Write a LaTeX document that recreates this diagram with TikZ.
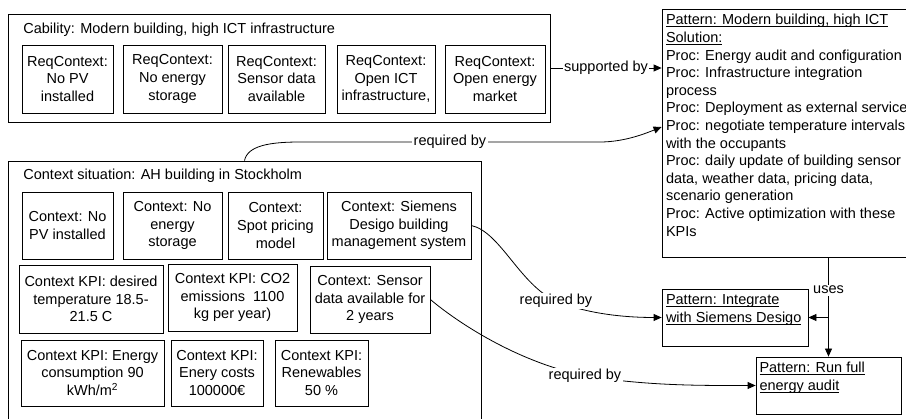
\documentclass[tikz,border=0pt]{standalone}
\usepackage{fontspec}
\setmainfont{Liberation Sans}
\usetikzlibrary{arrows.meta}
\newcommand{\patternline}[1]{\underline{\vphantom{P}\smash{#1}}}
\tikzset{
    every node/.style = {
        font=\fontsize{14.5pt}{17.6pt}\selectfont,
        inner sep=0pt
    },
    group/.style = {
        draw,
        shape=rectangle,
        line width=0.8pt
    },
    context/.style = {
        draw,
        shape=rectangle,
        line width=0.8pt,
        align=center
    },
    pattern/.style = {
        draw,
        shape=rectangle,
        line width=0.8pt
    },
    heading/.style = {
        anchor=west
    },
    patterntext/.style = {
        anchor=north west,
        align=left
    },
    relation/.style = {
        fill=white,
        inner sep=1.5pt
    },
    >={Triangle[length=8pt,width=7pt]},
}

\begin{document}
\begin{tikzpicture}[x=1pt, y=1pt, line width=0.8pt]
            \useasboundingbox (0,0) rectangle (906,-419);
            \clip (0,0) rectangle (906,-419);

            \node[group, minimum width=542pt, minimum height=108pt] (cab) at (279,-68) {};
            \node[heading] (cabtitle) at (23,-30) {Cability: Modern building, high ICT infrastructure};
            \node[context, minimum width=91pt, minimum height=68pt] (req1) at (67.5,-79) {ReqContext:\\No PV\\installed};
            \node[context, minimum width=99pt, minimum height=68pt] (req2) at (172.5,-79) {ReqContext:\\No energy\\storage};
            \node[context, minimum width=97pt, minimum height=68pt] (req3) at (276.5,-79) {ReqContext:\\Sensor data\\available};
            \node[context, minimum width=98pt, minimum height=68pt] (req4) at (386,-79) {ReqContext:\\Open ICT\\infrastructure,};
            \node[context, minimum width=100pt, minimum height=68pt] (req5) at (495,-79) {ReqContext:\\Open energy\\market};

            \node[pattern, minimum width=298pt, minimum height=248pt] (patsol) at (811,-133) {};
            \node[patterntext] (patsoltxt) at ([shift={(4,-6)}]patsol.north west) {\patternline{Pattern: Modern building, high ICT}\\\patternline{Solution:}\\Proc: Energy audit and configuration\\Proc: Infrastructure integration\\process\\Proc: Deployment as external service\\Proc: negotiate temperature intervals\\with the occupants\\Proc: daily update of building sensor\\data, weather data, pricing data,\\scenario generation\\Proc: Active optimization with these\\KPIs};

            \node[group, minimum width=473pt, minimum height=269pt] (ctx) at (244.5,-295.5) {};
            \node[heading] (ctxtitle) at (23,-176) {Context situation: AH building in Stockholm};
            \node[context, minimum width=91pt, minimum height=67pt] (ctxa) at (67.5,-225.5) {Context: No\\PV installed};
            \node[context, minimum width=99pt, minimum height=67pt] (ctxb) at (172.5,-225.5) {Context: No\\energy\\storage};
            \node[context, minimum width=95pt, minimum height=67pt] (ctxc) at (275.5,-225.5) {Context:\\Spot pricing\\model};
            \node[context, minimum width=144pt, minimum height=67pt] (ctxd) at (399,-225.5) {Context: Siemens\\Desigo building\\management system};
            \node[context, minimum width=144pt, minimum height=68pt] (ctxe) at (91,-299) {Context KPI: desired\\temperature 18.5-\\21.5 C};
            \node[context, minimum width=129pt, minimum height=67pt] (ctxf) at (232.5,-297.5) {Context KPI: CO2\\emissions\ \ 1100\\kg per year)};
            \node[context, minimum width=120pt, minimum height=67pt] (ctxg) at (370,-299.5) {Context: Sensor\\data available for\\2 years};
            \node[context, minimum width=143pt, minimum height=66pt] (ctxh) at (92.5,-373) {Context KPI: Energy\\consumption 90\\kWh/m\textsuperscript{2}};
            \node[context, minimum width=92pt, minimum height=66pt] (ctxi) at (217,-373) {Context KPI:\\Enery costs\\100000€};
            \node[context, minimum width=93pt, minimum height=66pt] (ctxj) at (321.5,-373) {Context KPI:\\Renewables\\50 \%};

            \node[pattern, minimum width=146pt, minimum height=57pt] (patint) at (735,-317.5) {};
            \node[patterntext] (patinttxt) at ([shift={(4,-6)}]patint.north west) {\patternline{Pattern: Integrate}\\\patternline{with Siemens Desigo}};
            \node[pattern, minimum width=145pt, minimum height=57pt] (patrun) at (828.5,-385.5) {};
            \node[patterntext] (patruntxt) at ([shift={(3.5,-6)}]patrun.north west) {\patternline{Pattern: Run full}\\\patternline{energy audit}};

            \path[draw, ->] (cab.east) -- (cab.east -| patsol.west) node [relation, midway] {supported by};

            \path[draw, ->] (ctx.north) .. controls +(3,15) and +(-30,0) .. (300,-142) -- node [relation] {required by} (600,-142) .. controls +(25,0) and +(-15,-6) .. ([yshift=6pt]patsol.west);

            \path[draw, ->] (ctxd.east) .. controls +(29,-6.5) and +(-36,16) .. (556,-301) node [relation] {required by} .. controls +(34,-14) and +(-32,0) .. (patint.west);
            \path[draw, ->] (ctxg.east) .. controls +(20,-17) and +(-75,16) .. (585,-376) node [relation] {required by} .. controls +(65,-10) and +(-56,0) .. (patrun.west);

            \path[draw, ->] (patrun.north |- patsol.south) -- (patrun.north) node [relation, pos=0.33] {uses};
            \path[draw, ->] (patint.east -| patrun.north) -- (patint.east);

\end{tikzpicture}
\end{document}
